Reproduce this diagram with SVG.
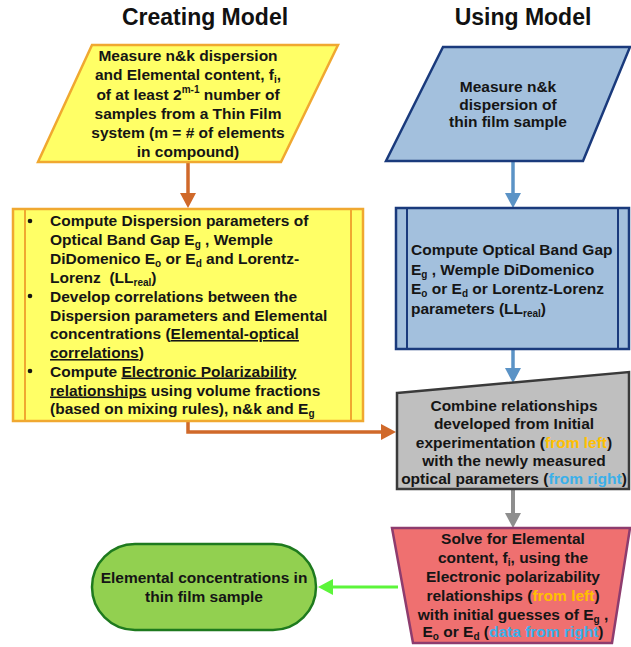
<svg xmlns="http://www.w3.org/2000/svg" width="631" height="647" viewBox="0 0 631 647">
<defs>
<style>
.t{font-family:"Liberation Sans",Arial,sans-serif;font-weight:bold;font-size:15.5px;fill:#151515}
.c{text-anchor:middle}
.h{font-family:"Liberation Sans",Arial,sans-serif;font-weight:bold;font-size:23px;fill:#111;text-anchor:middle}
.sub{font-size:10px}
.u{text-decoration:underline}
.fl{fill:#FFC000}
.fr{fill:#3AB0EA}
</style>
<marker id="aO" markerWidth="16" markerHeight="16" refX="4" refY="8" orient="auto" markerUnits="userSpaceOnUse"><path d="M0,0 L15,8 L0,16 z" fill="#D0692A"/></marker>
<marker id="aB" markerWidth="16" markerHeight="16" refX="4" refY="8" orient="auto" markerUnits="userSpaceOnUse"><path d="M0,0 L15,8 L0,16 z" fill="#5B93C6"/></marker>
<marker id="aG" markerWidth="16" markerHeight="16" refX="4" refY="8" orient="auto" markerUnits="userSpaceOnUse"><path d="M0,0 L15,8 L0,16 z" fill="#8E8E8E"/></marker>
<marker id="aL" markerWidth="16" markerHeight="16" refX="4" refY="8" orient="auto" markerUnits="userSpaceOnUse"><path d="M0,0 L15,8 L0,16 z" fill="#5CF53A"/></marker>
</defs>
<rect width="631" height="647" fill="#ffffff"/>

<g id="titles">
<text class="h" x="205" y="25">Creating Model</text>
<text class="h" x="523" y="25">Using Model</text>
</g>

<g id="connectors">
<path d="M188,162 V197" fill="none" stroke="#D0692A" stroke-width="3.5" marker-end="url(#aO)"/>
<path d="M188,421 V432 H385" fill="none" stroke="#D0692A" stroke-width="3.5" marker-end="url(#aO)"/>
<path d="M513,161 V197" fill="none" stroke="#5B93C6" stroke-width="3.5" marker-end="url(#aB)"/>
<path d="M513,349 V372" fill="none" stroke="#5B93C6" stroke-width="3.5" marker-end="url(#aB)"/>
<path d="M513,489 V517" fill="none" stroke="#8E8E8E" stroke-width="4" marker-end="url(#aG)"/>
<path d="M398,587 H329" fill="none" stroke="#5CF53A" stroke-width="3" marker-end="url(#aL)"/>
</g>

<g id="measure-samples">
<polygon points="92,45 338,45 281,162 38,162" fill="#FFFF66" stroke="#F0A830" stroke-width="2.5"/>
<text class="t c" x="188" y="61">Measure n&amp;k dispersion</text>
<text class="t c" x="188" y="80">and Elemental content, f<tspan class="sub" dy="3">i</tspan><tspan dy="-3">,</tspan></text>
<text class="t c" x="188" y="99.5">of at least 2<tspan class="sub" dy="-7">m-1</tspan><tspan dy="7"> number of</tspan></text>
<text class="t c" x="188" y="119">samples from a Thin Film</text>
<text class="t c" x="188" y="138">system (m = # of elements</text>
<text class="t c" x="188" y="157">in compound)</text>
</g>

<g id="compute-dispersion">
<rect x="13" y="209" width="350" height="212" fill="#FFFF66" stroke="#F0A830" stroke-width="2.5"/>
<line x1="25" y1="209" x2="25" y2="421" stroke="#F0A830" stroke-width="2"/>
<line x1="351" y1="209" x2="351" y2="421" stroke="#F0A830" stroke-width="2"/>
<circle cx="30" cy="221" r="2.3" fill="#151515"/>
<circle cx="30" cy="296" r="2.3" fill="#151515"/>
<circle cx="30" cy="371" r="2.3" fill="#151515"/>
<text class="t" x="50" y="226">Compute Dispersion parameters of</text>
<text class="t" x="50" y="245">Optical Band Gap E<tspan class="sub" dy="3">g</tspan><tspan dy="-3"> , Wemple</tspan></text>
<text class="t" x="50" y="264">DiDomenico E<tspan class="sub" dy="3">o</tspan><tspan dy="-3"> or E</tspan><tspan class="sub" dy="3">d</tspan><tspan dy="-3"> and Lorentz-</tspan></text>
<text class="t" x="50" y="283" xml:space="preserve">Lorenz  (LL<tspan class="sub" dy="3">real</tspan><tspan dy="-3">)</tspan></text>
<text class="t" x="50" y="301.5">Develop correlations between the</text>
<text class="t" x="50" y="320.5">Dispersion parameters and Elemental</text>
<text class="t" x="50" y="339">concentrations (<tspan class="u">Elemental-optical</tspan></text>
<text class="t" x="50" y="358"><tspan class="u">correlations</tspan>)</text>
<text class="t" x="50" y="376.5">Compute <tspan class="u">Electronic Polarizability</tspan></text>
<text class="t" x="50" y="395.5"><tspan class="u">relationships</tspan> using volume fractions</text>
<text class="t" x="50" y="414">(based on mixing rules), n&amp;k and E<tspan class="sub" dy="3">g</tspan></text>
</g>

<g id="measure-thin-film">
<polygon points="443,47 630,47 583,161 386,161" fill="#A3C0DD" stroke="#1A3A7C" stroke-width="2.5"/>
<text class="t c" x="508" y="92">Measure n&amp;k</text>
<text class="t c" x="508" y="109.5">dispersion of</text>
<text class="t c" x="508" y="127">thin film sample</text>
</g>

<g id="compute-band-gap">
<rect x="396" y="208" width="233" height="141" fill="#A3C0DD" stroke="#1A3A7C" stroke-width="2.5"/>
<line x1="407" y1="208" x2="407" y2="349" stroke="#1A3A7C" stroke-width="2"/>
<line x1="618" y1="208" x2="618" y2="349" stroke="#1A3A7C" stroke-width="2"/>
<text class="t" x="411" y="255">Compute Optical Band Gap</text>
<text class="t" x="411" y="274.5">E<tspan class="sub" dy="3">g</tspan><tspan dy="-3"> , Wemple DiDomenico</tspan></text>
<text class="t" x="411" y="294">E<tspan class="sub" dy="3">o</tspan><tspan dy="-3"> or E</tspan><tspan class="sub" dy="3">d</tspan><tspan dy="-3"> or Lorentz-Lorenz</tspan></text>
<text class="t" x="411" y="313.5">parameters (LL<tspan class="sub" dy="3">real</tspan><tspan dy="-3">)</tspan></text>
</g>

<g id="combine">
<polygon points="397,393 629,372 629,489 397,489" fill="#BFBFBF" stroke="#3A3A3A" stroke-width="2.5"/>
<text class="t c" x="514" y="410.5">Combine relationships</text>
<text class="t c" x="514" y="429">developed from Initial</text>
<text class="t c" x="514" y="447.5">experimentation (<tspan class="fl">from left</tspan>)</text>
<text class="t c" x="514" y="466">with the newly measured</text>
<text class="t c" x="514" y="484">optical parameters (<tspan class="fr">from right</tspan>)</text>
</g>

<g id="solve">
<polygon points="392,528 630,528 612,643 413,643" fill="#EF7070" stroke="#8E3C6E" stroke-width="2.5"/>
<text class="t c" x="513" y="544">Solve for Elemental</text>
<text class="t c" x="513" y="563">content, f<tspan class="sub" dy="3">i</tspan><tspan dy="-3">, using the</tspan></text>
<text class="t c" x="513" y="582">Electronic polarizability</text>
<text class="t c" x="513" y="601">relationships (<tspan class="fl">from left</tspan>)</text>
<text class="t c" x="513" y="619.5">with initial guesses of E<tspan class="sub" dy="3">g</tspan><tspan dy="-3"> ,</tspan></text>
<text class="t c" x="513" y="637">E<tspan class="sub" dy="3">o</tspan><tspan dy="-3"> or E</tspan><tspan class="sub" dy="3">d</tspan><tspan dy="-3"> (</tspan><tspan class="fr">data from right</tspan>)</text>
</g>

<g id="elemental-concentrations">
<rect x="92" y="544" width="224" height="86" rx="43" ry="43" fill="#92D050" stroke="#1E7A1E" stroke-width="2.5"/>
<text class="t c" x="204" y="582.5">Elemental concentrations in</text>
<text class="t c" x="204" y="601.5">thin film sample</text>
</g>
</svg>
